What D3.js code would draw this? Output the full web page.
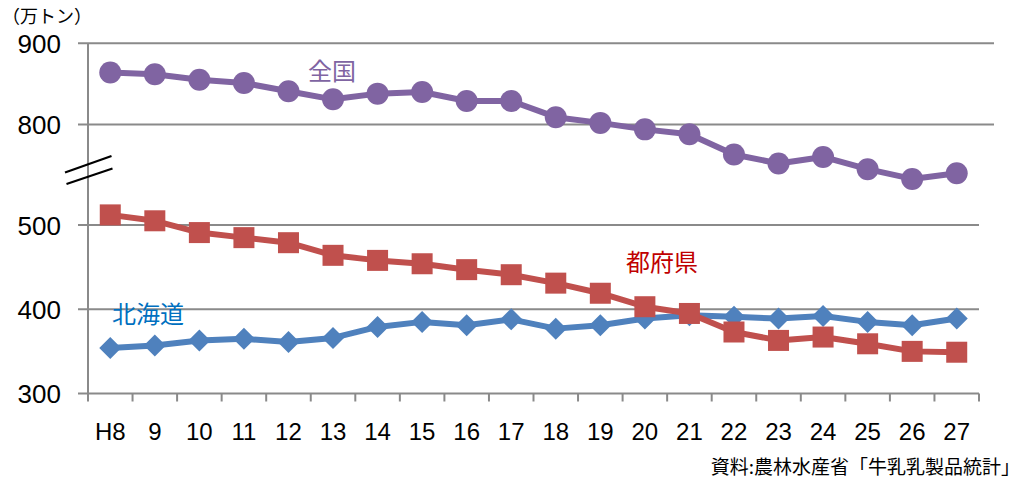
<!DOCTYPE html>
<html>
<head>
<meta charset="utf-8">
<script src="https://cdn.jsdelivr.net/npm/d3@7"></script>
<style>
  html, body { margin: 0; padding: 0; background: #fff; }
  svg { display: block; }
  text { font-family: "Liberation Sans", "Noto Sans CJK JP", sans-serif; }
  .jp { font-family: "Noto Sans CJK JP", sans-serif; }
</style>
</head>
<body>
<svg id="chart" width="1022" height="477"></svg>
<script>
// Raw milk production (10,000 t), fiscal years H8–H27
const years = ["H8","9","10","11","12","13","14","15","16","17","18","19","20","21","22","23","24","25","26","27"];
const national   = [864, 862, 855, 851, 841, 831, 838, 840, 829, 829, 809, 802, 794, 788, 763, 752, 760, 745, 733, 740];
const hokkaido   = [354, 357, 363, 365, 361, 366, 379, 385, 381, 388, 377, 381, 389, 393, 391, 389, 392, 385, 381, 389];
const prefectures= [512, 505, 491, 485, 479, 464, 458, 454, 447, 441, 431, 419, 403, 395, 373, 363, 367, 359, 350, 349];
const upperTicks = [800, 900];
const lowerTicks = [300, 400, 500];

const svg = d3.select("#chart");
const gridColor = "#8a8a8a";

const x = d3.scaleBand().domain(years).range([88, 979]);
const cx = d => x(d) + x.bandwidth() / 2;

// Broken value axis: upper panel for the national total, lower panel for regions
const yUpper = d3.scaleLinear().domain([800, 900]).range([124.5, 43.3]);
const yLower = d3.scaleLinear().domain([300, 500]).range([393.5, 225]);

// Gridlines and value labels
function grid(scale, ticks, xEnd) {
  svg.append("g").selectAll("line").data(ticks).join("line")
    .attr("x1", 78).attr("x2", xEnd)
    .attr("y1", d => scale(d)).attr("y2", d => scale(d))
    .attr("stroke", gridColor).attr("stroke-width", 2);
  svg.append("g").selectAll("text").data(ticks).join("text")
    .attr("x", 61).attr("y", d => scale(d) + 3)
    .attr("text-anchor", "end").attr("dominant-baseline", "middle")
    .attr("font-size", 26).attr("fill", "#000")
    .text(d => d);
}
grid(yUpper, upperTicks, 994);
grid(yLower, lowerTicks, 979);

// Vertical axis line
svg.append("line").attr("x1", 88).attr("x2", 88)
  .attr("y1", yUpper(900)).attr("y2", yLower(300) + 1)
  .attr("stroke", gridColor).attr("stroke-width", 2);

// Category axis ticks at band boundaries
const bounds = years.map(d => x(d)).concat([x.range()[1]]);
svg.append("g").selectAll("line").data(bounds).join("line")
  .attr("x1", d => d).attr("x2", d => d)
  .attr("y1", yLower(300)).attr("y2", yLower(300) + 8)
  .attr("stroke", gridColor).attr("stroke-width", 2);
svg.append("g").selectAll("text").data(years).join("text")
  .attr("x", cx).attr("y", 440)
  .attr("text-anchor", "middle")
  .attr("font-size", 24).attr("fill", "#000")
  .text(d => d);

// Axis break marks
const brk = svg.append("g").attr("stroke", "#000").attr("stroke-width", 2.2);
brk.append("line").attr("x1", 65).attr("y1", 172.5).attr("x2", 111.5).attr("y2", 156);
brk.append("line").attr("x1", 66.5).attr("y1", 184).attr("x2", 112.5).attr("y2", 168.5);

// Series
function series(values, scale, color, marker) {
  const pts = values.map((v, i) => [cx(years[i]), scale(v)]);
  svg.append("path").datum(pts)
    .attr("d", d3.line())
    .attr("fill", "none").attr("stroke", color)
    .attr("stroke-width", 6).attr("stroke-linejoin", "round");
  const g = svg.append("g");
  if (marker === "circle") {
    g.selectAll("circle").data(pts).join("circle")
      .attr("cx", d => d[0]).attr("cy", d => d[1]).attr("r", 11)
      .attr("fill", color);
  } else if (marker === "square") {
    g.selectAll("rect").data(pts).join("rect")
      .attr("x", d => d[0] - 10.5).attr("y", d => d[1] - 10.5)
      .attr("width", 21).attr("height", 21)
      .attr("fill", color);
  } else {
    const s = 11;
    g.selectAll("path").data(pts).join("path")
      .attr("d", d => `M${d[0]},${d[1]-s}L${d[0]+s},${d[1]}L${d[0]},${d[1]+s}L${d[0]-s},${d[1]}Z`)
      .attr("fill", color);
  }
}
series(national, yUpper, "#8064A2", "circle");
series(hokkaido, yLower, "#4F81BD", "diamond");
series(prefectures, yLower, "#C0504D", "square");

// Series labels
const labels = [
  { t: "全国",   x: 332, y: 69,  c: "#8064A2" },
  { t: "都府県", x: 662, y: 260, c: "#C00000" },
  { t: "北海道", x: 148, y: 312, c: "#0070C0" }
];
svg.append("g").selectAll("text").data(labels).join("text")
  .attr("class", "jp")
  .attr("x", d => d.x).attr("y", d => d.y)
  .attr("text-anchor", "middle").attr("dominant-baseline", "central")
  .attr("font-size", 24).attr("fill", d => d.c)
  .text(d => d.t);

// Unit and source
svg.append("text").attr("class", "jp")
  .attr("x", 2).attr("y", 15).attr("dominant-baseline", "central")
  .attr("font-size", 18).attr("fill", "#000")
  .text("（万トン）");
svg.append("text").attr("class", "jp")
  .attr("x", 1020).attr("y", 465).attr("dominant-baseline", "central")
  .attr("text-anchor", "end")
  .attr("font-size", 19).attr("fill", "#000")
  .text("資料:農林水産省「牛乳乳製品統計」");
</script>
</body>
</html>
